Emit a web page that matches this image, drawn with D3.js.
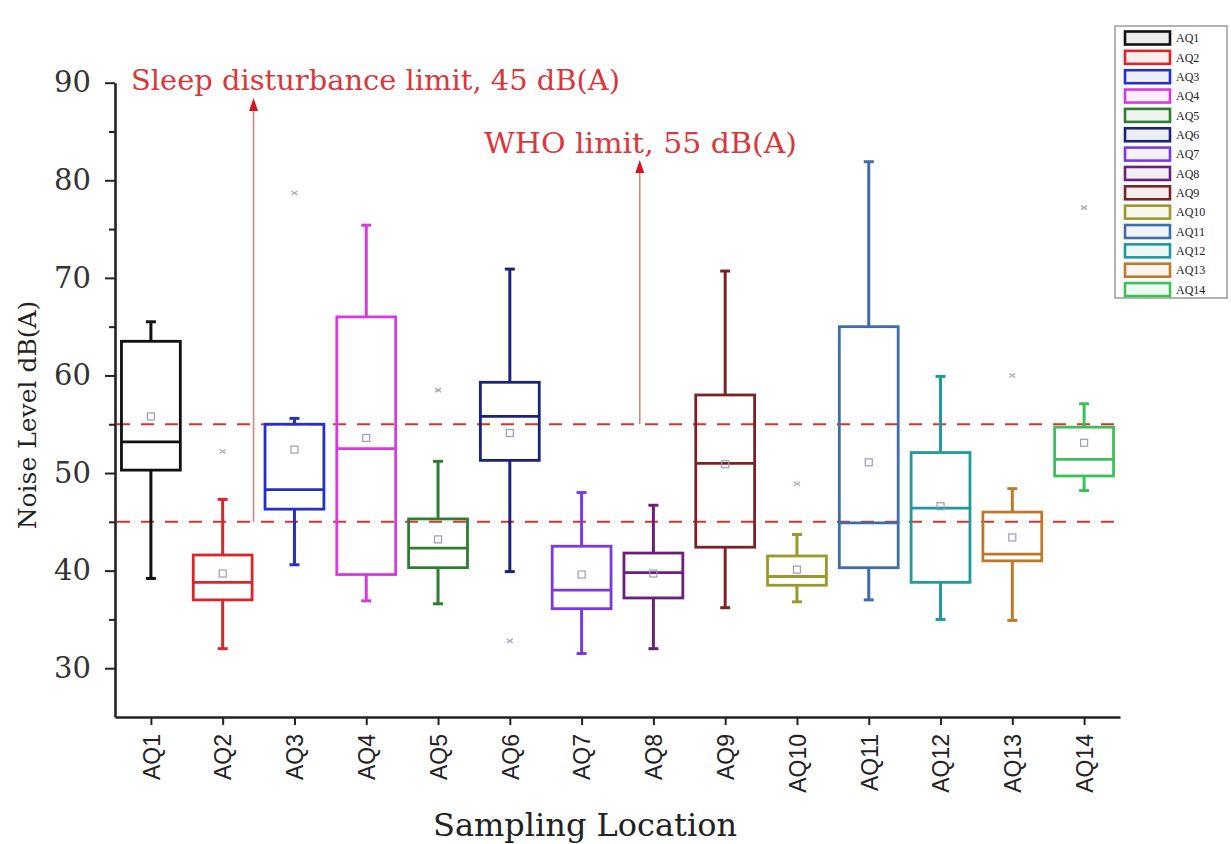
<!DOCTYPE html>
<html>
<head>
<meta charset="utf-8">
<script src="https://cdn.jsdelivr.net/npm/d3@7"></script>
<style>
  body { margin: 0; background: #fff; }
  svg { display: block; }
</style>
</head>
<body>
<svg></svg>
<script>
var width = 1231;
var height = 844;

// sampling locations
var sites = ["AQ1", "AQ2", "AQ3", "AQ4", "AQ5", "AQ6", "AQ7",
             "AQ8", "AQ9", "AQ10", "AQ11", "AQ12", "AQ13", "AQ14"];

// box statistics, dB(A)
var mins    = [39.2, 32.0, 40.6, 36.9, 36.6, 39.9, 31.5, 32.0, 36.2, 36.8, 37.0, 35.0, 34.9, 48.2];
var q1s     = [50.3, 37.0, 46.3, 39.6, 40.3, 51.3, 36.1, 37.2, 42.4, 38.5, 40.3, 38.8, 41.0, 49.7];
var medians = [53.2, 38.8, 48.3, 52.5, 42.3, 55.8, 38.0, 39.8, 51.0, 39.4, 44.9, 46.4, 41.7, 51.4];
var q3s     = [63.5, 41.6, 55.0, 66.0, 45.3, 59.3, 42.5, 41.8, 58.0, 41.5, 65.0, 52.1, 46.0, 54.7];
var maxs    = [65.5, 47.3, 55.6, 75.4, 51.2, 70.9, 48.0, 46.7, 70.7, 43.7, 81.9, 59.9, 48.4, 57.1];
var means   = [55.8, 39.7, 52.4, 53.6, 43.2, 54.1, 39.6, 39.7, 50.9, 40.1, 51.1, 46.6, 43.4, 53.1];
// extreme points (site, value)
var outliers = [
  ["AQ2", 52.2], ["AQ3", 78.7], ["AQ5", 58.5], ["AQ6", 32.8],
  ["AQ10", 48.9], ["AQ13", 60.0], ["AQ14", 77.2]
];

var colors = ["#111111", "#d8262a", "#2630c4", "#d63ade", "#2f7d33", "#1b2378", "#7a3ae0",
              "#6a1f78", "#7a2326", "#9a9a2c", "#3f6ea6", "#22999a", "#bd7a2e", "#3dbf5c"];

var yTicks = [30, 40, 50, 60, 70, 80, 90];
var yMinor = [35, 45, 55, 65, 75, 85];

// guideline limits
var limits = [45, 55];
var limitLabels = ["Sleep disturbance limit, 45 dB(A)", "WHO limit, 55 dB(A)"];

var serif = "'DejaVu Serif', 'Liberation Serif', serif";

var svg = d3.select("svg")
  .attr("width", width)
  .attr("height", height);

var x = d3.scalePoint()
  .domain(sites)
  .range([115, 1120])
  .padding(0.5);

var y = d3.scaleLinear()
  .domain([25, 90])
  .range([717, 82.7]);

var step = x.step();
var boxW = step * 0.82;
var capW = 10;

var rows = sites.map(function(s, i) {
  return { site: s, min: mins[i], q1: q1s[i], med: medians[i], q3: q3s[i],
           max: maxs[i], mean: means[i], color: colors[i] };
});

// limit lines
svg.selectAll("line.limit")
  .data(limits)
  .enter()
  .append("line")
    .attr("class", "limit")
    .attr("x1", 117)
    .attr("x2", 1120)
    .attr("y1", d => y(d))
    .attr("y2", d => y(d))
    .attr("stroke", "#d8342e")
    .attr("stroke-width", 2)
    .attr("stroke-dasharray", "13,11");

// boxes
var g = svg.selectAll("g.box")
  .data(rows)
  .enter()
  .append("g")
    .attr("class", "box")
    .attr("transform", d => "translate(" + x(d.site) + ",0)");

g.append("line")
  .attr("y1", d => y(d.max)).attr("y2", d => y(d.q3))
  .attr("stroke", d => d.color).attr("stroke-width", 3);
g.append("line")
  .attr("y1", d => y(d.q1)).attr("y2", d => y(d.min))
  .attr("stroke", d => d.color).attr("stroke-width", 3);
g.append("line")
  .attr("x1", -capW / 2).attr("x2", capW / 2)
  .attr("y1", d => y(d.max)).attr("y2", d => y(d.max))
  .attr("stroke", d => d.color).attr("stroke-width", 3);
g.append("line")
  .attr("x1", -capW / 2).attr("x2", capW / 2)
  .attr("y1", d => y(d.min)).attr("y2", d => y(d.min))
  .attr("stroke", d => d.color).attr("stroke-width", 3);
g.append("rect")
  .attr("x", -boxW / 2)
  .attr("width", boxW)
  .attr("y", d => y(d.q3))
  .attr("height", d => y(d.q1) - y(d.q3))
  .attr("fill", "none")
  .attr("stroke", d => d.color)
  .attr("stroke-width", 2.8);
g.append("line")
  .attr("x1", -boxW / 2).attr("x2", boxW / 2)
  .attr("y1", d => y(d.med)).attr("y2", d => y(d.med))
  .attr("stroke", d => d.color).attr("stroke-width", 2.8);
g.append("rect")
  .attr("x", -3.5).attr("width", 7)
  .attr("y", d => y(d.mean) - 3.5).attr("height", 7)
  .attr("fill", "none")
  .attr("stroke", "#9c9cb8")
  .attr("stroke-width", 1.2);

// outlier crosses
svg.selectAll("path.out")
  .data(outliers)
  .enter()
  .append("path")
    .attr("class", "out")
    .attr("d", d => {
      var cx = x(d[0]), cy = y(d[1]);
      return "M" + (cx - 3) + "," + (cy - 2) + "L" + (cx + 3) + "," + (cy + 2) +
             "M" + (cx - 3) + "," + (cy + 2) + "L" + (cx + 3) + "," + (cy - 2);
    })
    .attr("stroke", "#a7a9b8")
    .attr("stroke-width", 1.3);

// axes
var yAxis = svg.append("g")
  .attr("transform", "translate(115,0)")
  .call(d3.axisLeft(y).tickValues(yTicks).tickSize(10).tickSizeOuter(0).tickPadding(14));
yAxis.select(".domain").attr("stroke", "#222").attr("stroke-width", 2.6);
yAxis.selectAll(".tick line").attr("stroke", "#222").attr("stroke-width", 2);
yAxis.selectAll(".tick text")
  .attr("font-family", serif)
  .attr("font-size", 29)
  .attr("fill", "#333");

svg.append("g")
  .attr("transform", "translate(115,0)")
  .call(d3.axisLeft(y).tickValues(yMinor).tickSize(6).tickFormat(""))
  .call(a => a.select(".domain").remove())
  .selectAll(".tick line").attr("stroke", "#222").attr("stroke-width", 2);

var xAxis = svg.append("g")
  .attr("transform", "translate(0,717)")
  .call(d3.axisBottom(x).tickSize(8).tickSizeOuter(0));
xAxis.select(".domain").attr("stroke", "#222").attr("stroke-width", 2.6);
xAxis.selectAll(".tick line").attr("stroke", "#222").attr("stroke-width", 2);
xAxis.selectAll(".tick text")
  .attr("transform", "rotate(-90)")
  .attr("x", -17)
  .attr("y", 0)
  .attr("dy", "0.36em")
  .attr("text-anchor", "end")
  .attr("font-family", "'Liberation Sans', Arial, sans-serif")
  .attr("font-size", 23)
  .attr("fill", "#222");

// axis titles
svg.append("text")
  .attr("transform", "translate(36,415) rotate(-90)")
  .attr("text-anchor", "middle")
  .attr("font-family", serif)
  .attr("font-size", 25)
  .attr("fill", "#222")
  .text("Noise Level dB(A)");

svg.append("text")
  .attr("x", 585)
  .attr("y", 836)
  .attr("text-anchor", "middle")
  .attr("font-family", serif)
  .attr("font-size", 32)
  .attr("fill", "#222")
  .text("Sampling Location");

// limit annotations with arrows
var notes = [
  { text: limitLabels[0], tx: 131, ty: 90, len: 489, ax: x("AQ2") + step * 0.43, base: limits[0], tip: 98 },
  { text: limitLabels[1], tx: 484, ty: 153, len: 313, ax: x("AQ7") + step * 0.81, base: limits[1], tip: 160 }
];

svg.selectAll("line.arrow")
  .data(notes)
  .enter()
  .append("line")
    .attr("x1", d => d.ax).attr("x2", d => d.ax)
    .attr("y1", d => y(d.base)).attr("y2", d => d.tip + 10)
    .attr("stroke", "#c98a80")
    .attr("stroke-width", 1.6);

svg.selectAll("path.head")
  .data(notes)
  .enter()
  .append("path")
    .attr("d", d => "M" + d.ax + "," + d.tip + "L" + (d.ax - 4.5) + "," + (d.tip + 13) +
                    "L" + (d.ax + 4.5) + "," + (d.tip + 13) + "Z")
    .attr("fill", "#d4141e");

svg.selectAll("text.note")
  .data(notes)
  .enter()
  .append("text")
    .attr("x", d => d.tx)
    .attr("y", d => d.ty)
    .attr("font-family", serif)
    .attr("font-size", 27)
    .attr("textLength", d => d.len)
    .attr("lengthAdjust", "spacingAndGlyphs")
    .attr("fill", "#d8383c")
    .text(d => d.text);

// legend
var legend = svg.append("g");
legend.append("rect")
  .attr("x", 1115).attr("y", 26)
  .attr("width", 112).attr("height", 272)
  .attr("fill", "#fff")
  .attr("stroke", "#9a9a9a")
  .attr("stroke-width", 1.5);

var item = legend.selectAll("g.item")
  .data(rows)
  .enter()
  .append("g")
    .attr("transform", (d, i) => "translate(1125," + (38 + i * 19.35) + ")");

item.append("rect")
  .attr("x", 0).attr("y", -6.5)
  .attr("width", 45).attr("height", 13)
  .attr("fill", d => d3.interpolateRgb("#fff", d.color)(0.08))
  .attr("stroke", d => d.color)
  .attr("stroke-width", 2.6);

item.append("text")
  .attr("x", 51)
  .attr("y", 0)
  .attr("dy", "0.35em")
  .attr("font-family", "'Liberation Serif', serif")
  .attr("font-size", 12)
  .attr("fill", "#222")
  .text(d => d.site);
</script>
</body>
</html>
